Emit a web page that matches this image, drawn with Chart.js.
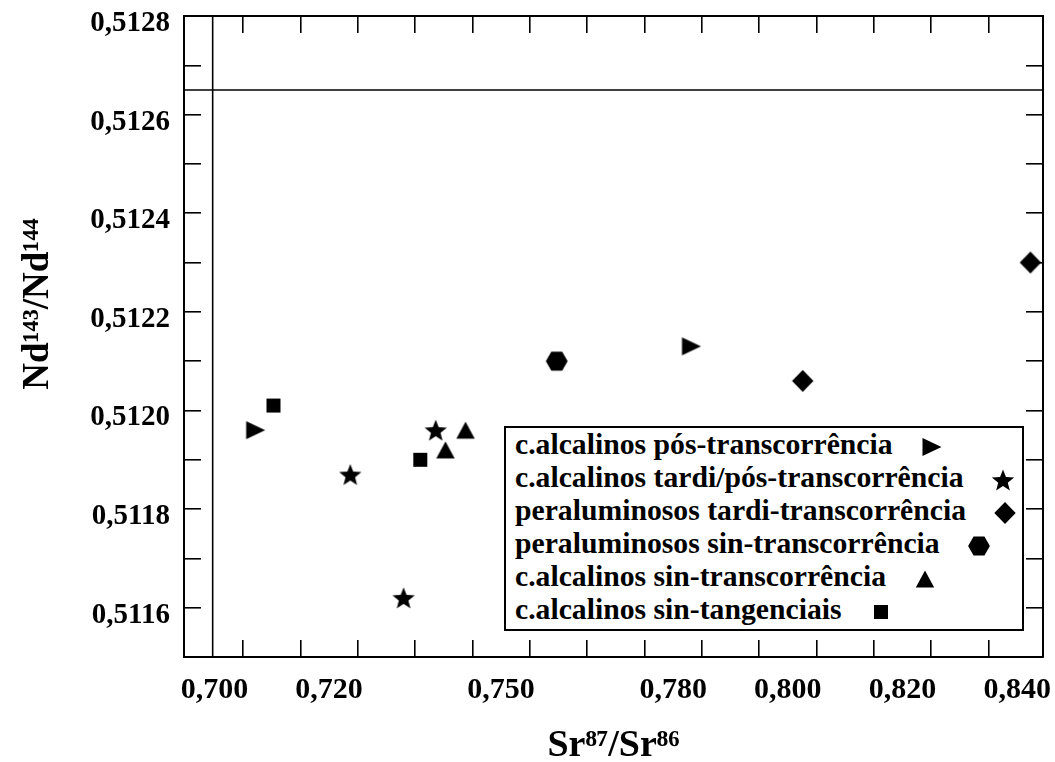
<!DOCTYPE html>
<html>
<head>
<meta charset="utf-8">
<script src="https://cdn.jsdelivr.net/npm/chart.js@4/dist/chart.umd.min.js"></script>
<style>
  body { margin: 0; background: #fff; }
  #wrap { position: relative; width: 1055px; height: 762px; }
  #chart { position: absolute; left: 0; top: 0; }
  #legend {
    position: absolute; left: 504px; top: 426px; width: 520px; height: 205px;
    box-sizing: border-box; border: 2px solid #000; background: #fff;
    padding: 0 0 0 9px;
    font-family: 'Liberation Serif', serif; font-weight: bold; font-size: 29.7px; color: #000;
  }
  #legend .row { line-height: 33px; height: 33px; white-space: nowrap; }
  #legend canvas { display: inline-block; vertical-align: middle; margin-left: 26px; }
</style>
</head>
<body>
<div id="wrap">
  <canvas id="chart" width="1055" height="762"></canvas>
  <div id="legend"></div>
</div>
<script>
// axis setup
const xMin = 0.6947, xMax = 0.8445;
const yMin = 0.5115, yMax = 0.5128;
const xLabelValues = [0.700, 0.720, 0.750, 0.780, 0.800, 0.820, 0.840];
const xTickMarks = [0.705, 0.715, 0.725, 0.735, 0.745, 0.755, 0.765, 0.775, 0.785, 0.795, 0.805, 0.815, 0.825, 0.835];
const yLabelValues = [0.5116, 0.5118, 0.5120, 0.5122, 0.5124, 0.5126, 0.5128];
const yTickMarks = [0.5116, 0.5117, 0.5118, 0.5119, 0.5120, 0.5121, 0.5122, 0.5123, 0.5124, 0.5125, 0.5126, 0.5127];
const refLineX = 0.6997;
const refLineY = 0.51265;

// series
const seriesNames = [
    'c.alcalinos pós-transcorrência',
    'c.alcalinos tardi/pós-transcorrência',
    'peraluminosos tardi-transcorrência',
    'peraluminosos sin-transcorrência',
    'c.alcalinos sin-transcorrência',
    'c.alcalinos sin-tangenciais'
];
const seriesMarkers = ['rightTri', 'star', 'diamond', 'hexagon', 'triangle', 'square'];

const posTransX = [0.7072, 0.7832];
const posTransY = [0.51196, 0.51213];
const tardiPosX = [0.7237, 0.7386, 0.7330];
const tardiPosY = [0.51187, 0.51196, 0.51162];
const peralTardiX = [0.8026, 0.8423];
const peralTardiY = [0.51206, 0.51230];
const peralSinX = [0.7597];
const peralSinY = [0.51210];
const sinTransX = [0.7438, 0.7403];
const sinTransY = [0.51196, 0.51192];
const sinTangX = [0.7103, 0.7359];
const sinTangY = [0.51201, 0.51190];

const seriesX = [posTransX, tardiPosX, peralTardiX, peralSinX, sinTransX, sinTangX];
const seriesY = [posTransY, tardiPosY, peralTardiY, peralSinY, sinTransY, sinTangY];

const makeMarker = (kind) => {
    const c = document.createElement('canvas');
    c.width = 26;
    c.height = 26;
    const g = c.getContext('2d');
    g.fillStyle = '#000';
    g.beginPath();
    const cx = 13, cy = 13;
    if (kind === 'rightTri') {
        g.moveTo(cx - 9.5, cy - 9);
        g.lineTo(cx + 9.5, cy);
        g.lineTo(cx - 9.5, cy + 9);
    } else if (kind === 'star') {
        const R = 11.7, r = 5.0, sy = cy + 1.1;
        for (let i = 0; i < 10; i++) {
            const a = -Math.PI / 2 + i * Math.PI / 5;
            const rr = i % 2 === 0 ? R : r;
            const px = cx + rr * Math.cos(a), py = sy + rr * Math.sin(a);
            if (i === 0) g.moveTo(px, py); else g.lineTo(px, py);
        }
    } else if (kind === 'diamond') {
        g.moveTo(cx, cy - 11);
        g.lineTo(cx + 10.7, cy);
        g.lineTo(cx, cy + 11);
        g.lineTo(cx - 10.7, cy);
    } else if (kind === 'hexagon') {
        const r = 10.9;
        for (let i = 0; i < 6; i++) {
            const a = i * Math.PI / 3;
            const px = cx + r * Math.cos(a), py = cy + r * Math.sin(a);
            if (i === 0) g.moveTo(px, py); else g.lineTo(px, py);
        }
    } else if (kind === 'triangle') {
        g.moveTo(cx, cy - 8.4);
        g.lineTo(cx + 9.2, cy + 8.4);
        g.lineTo(cx - 9.2, cy + 8.4);
    } else {
        g.rect(cx - 7, cy - 7, 14, 14);
    }
    g.closePath();
    g.fill();
    return c;
};

const buildLegend = () => {
    const box = document.getElementById('legend');
    seriesNames.forEach((name, i) => {
        const row = document.createElement('div');
        row.className = 'row';
        const label = document.createElement('span');
        label.textContent = name;
        row.appendChild(label);
        row.appendChild(makeMarker(seriesMarkers[i]));
        box.appendChild(row);
    });
};

// fix axis box size and drop the label overhang padding
const fixSize = (prop, size) => (s) => {
    s[prop] = size;
    s.paddingLeft = 0;
    s.paddingRight = 0;
    s.paddingTop = 0;
    s.paddingBottom = 0;
};

const displayChart = () => {
    Chart.defaults.font.family = "'Liberation Serif', serif";
    Chart.defaults.font.weight = 'bold';
    Chart.defaults.color = '#000';

    const datasets = seriesNames.map((name, i) => ({
        label: name,
        data: seriesX[i].map((x, j) => ({ x: x, y: seriesY[i][j] })),
        pointStyle: makeMarker(seriesMarkers[i]),
        pointRadius: 11,
        backgroundColor: '#000',
        borderColor: '#000'
    }));
    // frame lines inside the plot
    datasets.push({
        label: 'vline',
        data: [{ x: refLineX, y: yMin }, { x: refLineX, y: yMax }],
        showLine: true, pointRadius: 0, borderColor: '#000', borderWidth: 1.6
    });
    datasets.push({
        label: 'hline',
        data: [{ x: xMin, y: refLineY }, { x: xMax, y: refLineY }],
        showLine: true, pointRadius: 0, borderColor: '#000', borderWidth: 1.6
    });

    const xTicks = xLabelValues.concat(xTickMarks).sort((a, b) => a - b);
    const yTicks = Array.from(new Set(yLabelValues.concat(yTickMarks))).sort((a, b) => a - b);

    const markColor = (list) => (c) => (c.tick && list.includes(c.tick.value)) ? '#000' : 'rgba(0,0,0,0)';
    const gridOpts = (list) => ({
        drawOnChartArea: false, drawTicks: true, tickLength: -17,
        lineWidth: 1.6, color: markColor(list)
    });
    const borderOpts = { display: true, color: '#000', width: 2 };

    new Chart(document.getElementById('chart').getContext('2d'), {
        type: 'scatter',
        data: { datasets: datasets },
        options: {
            responsive: false,
            animation: false,
            events: [],
            layout: { padding: 0 },
            plugins: { legend: { display: false }, tooltip: { enabled: false } },
            scales: {
                x: {
                    type: 'linear', position: 'bottom', min: xMin, max: xMax,
                    afterBuildTicks: (s) => { s.ticks = xTicks.map(v => ({ value: v })); },
                    afterFit: fixSize('height', 105),
                    grid: gridOpts(xTickMarks),
                    border: borderOpts,
                    ticks: {
                        autoSkip: false, maxRotation: 0, padding: 32,
                        font: { size: 30, weight: 'bold' },
                        callback: (v) => xLabelValues.includes(v) ? v.toFixed(3).replace('.', ',') : ''
                    },
                    title: {
                        display: true, text: 'Sr⁸⁷/Sr⁸⁶',
                        font: { size: 38, weight: 'bold', lineHeight: 1 },
                        padding: { top: 0, bottom: -3 }
                    }
                },
                x2: {
                    type: 'linear', position: 'top', min: xMin, max: xMax,
                    afterBuildTicks: (s) => { s.ticks = xTickMarks.map(v => ({ value: v })); },
                    afterFit: fixSize('height', 16),
                    grid: gridOpts(xTickMarks),
                    border: borderOpts,
                    ticks: { display: false }
                },
                y: {
                    type: 'linear', position: 'left', min: yMin, max: yMax,
                    afterBuildTicks: (s) => { s.ticks = yTicks.map(v => ({ value: v })); },
                    afterFit: fixSize('width', 184),
                    grid: gridOpts(yTickMarks),
                    border: borderOpts,
                    ticks: {
                        autoSkip: false, padding: 31, labelOffset: 7.5,
                        font: { size: 29, weight: 'bold' },
                        callback: (v) => yLabelValues.includes(v) ? v.toFixed(4).replace('.', ',') : ''
                    },
                    title: {
                        display: true, text: '       Nd¹⁴³/Nd¹⁴⁴',
                        font: { size: 37, weight: 'bold', lineHeight: 1 },
                        padding: { top: 20, bottom: 0 }
                    }
                },
                y2: {
                    type: 'linear', position: 'right', min: yMin, max: yMax,
                    afterBuildTicks: (s) => { s.ticks = yTickMarks.map(v => ({ value: v })); },
                    afterFit: fixSize('width', 7),
                    grid: gridOpts(yTickMarks),
                    border: borderOpts,
                    ticks: { display: false }
                }
            }
        }
    });
};

buildLegend();
displayChart();
</script>
</body>
</html>
